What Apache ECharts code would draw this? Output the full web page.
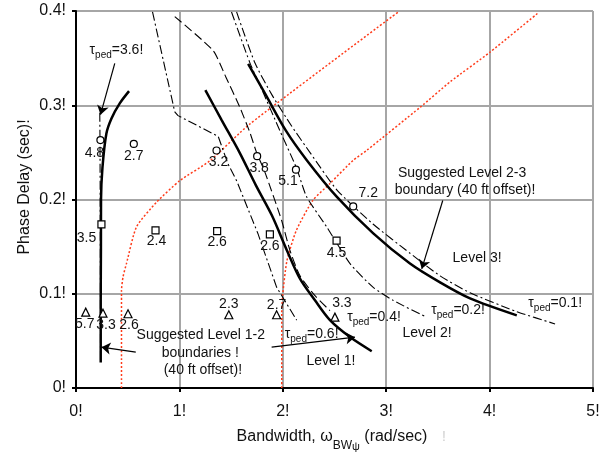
<!DOCTYPE html>
<html>
<head>
<meta charset="utf-8">
<script src="https://cdn.jsdelivr.net/npm/echarts@6/dist/echarts.min.js"></script>
<style>
  html, body { margin: 0; padding: 0; background: #fff; }
  #chart { width: 606px; height: 454px; }
</style>
</head>
<body>
<div id="chart"></div>
<script>
// ---- axis tick labels ----
const xTickLabels = ['0!', '1!', '2!', '3!', '4!', '5!'];
const yTickLabels = ['0!', '0.1!', '0.2!', '0.3!', '0.4!'];

// ---- suggested boundaries (solid) ----
const level12Left = [[0.239, 0.027], [0.239, 0.093], [0.241, 0.146], [0.242, 0.200], [0.256, 0.234],
  [0.294, 0.270], [0.343, 0.286], [0.423, 0.302], [0.513, 0.315]];
const level12Right = [[1.251, 0.316], [1.410, 0.284], [1.586, 0.249], [1.740, 0.215], [1.895, 0.183],
  [2.040, 0.146], [2.166, 0.116], [2.311, 0.093], [2.456, 0.072], [2.650, 0.054], [2.860, 0.039]];
const level23 = [[1.665, 0.344], [1.830, 0.312], [2.030, 0.273], [2.230, 0.242], [2.521, 0.203],
  [2.875, 0.164], [3.230, 0.132], [3.521, 0.112], [3.811, 0.095], [4.263, 0.077]];

// ---- constant pedal time-constant curves ----
const tau36 = [[0.230, 0.292], [0.232, 0.262], [0.234, 0.200], [0.236, 0.120], [0.237, 0.030]];
const tau06 = [[0.740, 0.399], [0.955, 0.293], [0.987, 0.289], [1.375, 0.267], [1.469, 0.238],
  [1.553, 0.220], [1.759, 0.164], [1.940, 0.107], [2.134, 0.072]];
const tau04 = [[0.955, 0.394], [1.326, 0.358], [1.449, 0.330], [1.584, 0.298], [1.682, 0.271],
  [1.746, 0.250], [1.827, 0.229], [1.988, 0.178], [2.069, 0.146], [2.166, 0.119], [2.311, 0.098], [2.456, 0.082]];
const tau02 = [[1.504, 0.399], [1.682, 0.345], [1.808, 0.314], [1.972, 0.273], [2.134, 0.233],
  [2.230, 0.203], [2.424, 0.171], [2.650, 0.132], [2.872, 0.107], [3.066, 0.093], [3.392, 0.075]];
const tau01 = [[1.553, 0.399], [1.730, 0.345], [1.895, 0.311], [2.085, 0.278], [2.262, 0.250],
  [2.524, 0.210], [2.872, 0.174], [3.230, 0.143], [3.521, 0.119], [3.811, 0.101], [4.263, 0.081], [4.633, 0.068]];

// ---- offset curves (red dotted) ----
const offsetLeft = [[0.440, 0.000], [0.440, 0.1035], [0.455, 0.118], [0.488, 0.132], [0.585, 0.171],
  [0.778, 0.197], [1.004, 0.220], [1.294, 0.241], [1.680, 0.280], [3.117, 0.399]];
const offsetRight = [[1.990, 0.000], [1.990, 0.080], [2.000, 0.100], [2.040, 0.135], [2.130, 0.167],
  [2.290, 0.199], [2.456, 0.217], [2.680, 0.2415], [2.810, 0.252], [3.330, 0.298], [3.620, 0.325],
  [4.000, 0.356], [4.470, 0.398]];

// ---- rated configurations ----
const circlePoints = [[0.236, 0.263], [0.559, 0.259], [1.359, 0.252], [1.752, 0.246], [2.127, 0.2316], [2.681, 0.1927]];
const circleRatings = ['4.8', '2.7', '3.2', '3.8', '5.1', '7.2'];
const squarePoints = [[0.246, 0.1736], [0.769, 0.1672], [1.365, 0.1665], [1.875, 0.1630], [2.520, 0.1563]];
const squareRatings = ['3.5', '2.4', '2.6', '2.6', '4.5'];
const trianglePoints = [[0.094, 0.0805], [0.261, 0.0794], [0.503, 0.0788], [1.478, 0.0777], [1.940, 0.0777], [2.504, 0.0752]];
const triangleRatings = ['5.7', '3.3', '2.6', '2.3', '2.7', '3.3'];

// label placement relative to each marker (px)
const circleLabelOffsets = [[-6, 13], [0, 12], [2, 12], [2, 12], [-8, 11], [15, -13]];
const squareLabelOffsets = [[-15, 14], [1, 11], [0, 11], [0, 12], [0, 12]];
const triangleLabelOffsets = [[-1, 12], [3, 12], [1, 11], [0, -11], [0, -10], [7, -14]];

// ---- annotation arrows (tail, head) ----
const arrows = [
  [[0.375, 0.3444], [0.237, 0.290]],
  [[0.578, 0.038], [0.246, 0.0433]],
  [[1.892, 0.0433], [2.698, 0.0539]],
  [[3.547, 0.1989], [3.344, 0.1264]]
];

const FONT = '"Liberation Sans", Arial, Helvetica, sans-serif';
const INK = '#111';

const solid = { color: '#000', width: 2.5, type: 'solid' };
const dashDot = { color: '#000', width: 1.1, type: [9, 3, 2, 3] };
const dashed = { color: '#000', width: 1.1, type: [9, 4] };
const redDot = { color: '#ff3b1a', width: 1.5, type: [2, 2] };

function curve(name, data, style, smooth) {
  return {
    name, type: 'line', data, symbol: 'none', showSymbol: false,
    smooth: smooth, lineStyle: style, silent: true, z: 2
  };
}

function markers(name, pts, ratings, offsets, symbol, size) {
  return {
    name, type: 'scatter', symbol, symbolSize: size, z: 5, silent: true,
    itemStyle: { color: '#fff', borderColor: '#000', borderWidth: 1.2, opacity: 1 },
    data: pts.map((p, i) => ({
      value: [p[0], p[1]],
      label: { offset: offsets[i], formatter: ratings[i] }
    })),
    label: {
      show: true, position: 'inside', color: INK, opacity: 1,
      textBorderWidth: 0, textShadowBlur: 0,
      fontFamily: FONT, fontSize: 14
    }
  };
}

const chart = echarts.init(document.getElementById('chart'));

const option = {
  animation: false,
  backgroundColor: '#fff',
  grid: { left: 76, right: 13, top: 11, bottom: 66, containLabel: false },
  xAxis: {
    type: 'value', min: 0, max: 5, interval: 1,
    axisLine: { show: true, lineStyle: { color: '#000', width: 2 } },
    axisTick: { show: true, length: 4, lineStyle: { color: '#000', width: 2 } },
    axisLabel: {
      margin: 16, color: INK, fontFamily: FONT, fontSize: 16,
      formatter: v => xTickLabels[Math.round(v)]
    },
    splitLine: { show: true, lineStyle: { color: '#a6a6a6', width: 2 } }
  },
  yAxis: {
    type: 'value', min: 0, max: 0.4, interval: 0.1,
    axisLine: { show: true, lineStyle: { color: '#000', width: 2 } },
    axisTick: { show: true, length: 4, lineStyle: { color: '#000', width: 2 } },
    axisLabel: {
      margin: 10, color: INK, fontFamily: FONT, fontSize: 16,
      formatter: v => yTickLabels[Math.round(v / 0.1)]
    },
    splitLine: { show: true, lineStyle: { color: '#a6a6a6', width: 2 } }
  },
  series: [
    curve('offsetLeft', offsetLeft, redDot, 0.2),
    curve('offsetRight', offsetRight, redDot, 0.2),
    curve('tau36', tau36, dashDot, false),
    curve('tau06', tau06, dashDot, false),
    curve('tau04', tau04, dashed, 0.2),
    curve('tau02', tau02, dashDot, 0.2),
    curve('tau01', tau01, dashDot, 0.2),
    curve('level12Left', level12Left, solid, 0.3),
    curve('level12Right', level12Right, solid, 0.3),
    Object.assign(curve('level23', level23, solid, 0.3), {
      markLine: {
        silent: true, symbol: ['none', 'arrow'], symbolSize: 9,
        label: { show: false },
        lineStyle: { color: '#000', width: 1.2, type: 'solid' },
        data: arrows.map(a => [{ coord: a[0] }, { coord: a[1] }])
      }
    }),
    markers('circles', circlePoints, circleRatings, circleLabelOffsets, 'circle', 7),
    markers('squares', squarePoints, squareRatings, squareLabelOffsets, 'rect', 7),
    markers('triangles', trianglePoints, triangleRatings, triangleLabelOffsets, 'triangle', 8)
  ]
};
chart.setOption(option);

// ---- text annotations placed in data space ----
const tauRich = {
  t: { fontSize: 14, fontFamily: FONT, fill: INK, lineHeight: 20 },
  s: { fontSize: 10, fontFamily: FONT, fill: INK, lineHeight: 10, verticalAlign: 'bottom' }
};
const notes = [
  { text: '{t|τ}{s|ped}{t|=3.6!}', at: [0.391, 0.3583], rich: true },
  { text: '{t|τ}{s|ped}{t|=0.6!}', at: [2.279, 0.0575], rich: true },
  { text: '{t|τ}{s|ped}{t|=0.4!}', at: [2.882, 0.0752], rich: true },
  { text: '{t|τ}{s|ped}{t|=0.2!}', at: [3.695, 0.0823], rich: true },
  { text: '{t|τ}{s|ped}{t|=0.1!}', at: [4.634, 0.0897], rich: true },
  { text: 'Suggested Level 1-2', at: [1.207, 0.0557] },
  { text: 'boundaries !', at: [1.202, 0.0369] },
  { text: '(40 ft offset)!', at: [1.227, 0.0186] },
  { text: 'Level 1!', at: [2.466, 0.0281] },
  { text: 'Level 2!', at: [3.395, 0.0579] },
  { text: 'Level 3!', at: [3.879, 0.1375] },
  { text: 'Suggested Level 2-3', at: [3.734, 0.228] },
  { text: 'boundary (40 ft offset)!', at: [3.763, 0.2104] }
];

const graphics = notes.map(n => {
  const p = chart.convertToPixel({ gridIndex: 0 }, n.at);
  const style = {
    text: n.text, fontSize: 14, fontFamily: FONT, fill: INK,
    align: 'center', verticalAlign: 'middle',
    textAlign: 'center', textVerticalAlign: 'middle'
  };
  if (n.rich) style.rich = tauRich;
  return { type: 'text', x: p[0], y: p[1], z: 20, silent: true, style };
});

// axis titles
graphics.push({
  type: 'text', x: 332, y: 437, z: 20, silent: true,
  style: {
    text: '{n|Bandwidth, ω}{s|BW}{ss|ψ}{n| (rad/sec)}',
    align: 'center', verticalAlign: 'middle', textAlign: 'center', textVerticalAlign: 'middle',
    fontSize: 16, fontFamily: FONT, fill: INK,
    rich: {
      n: { fontSize: 16, fontFamily: FONT, fill: INK, lineHeight: 30 },
      s: { fontSize: 12, fontFamily: FONT, fill: INK, lineHeight: 20, verticalAlign: 'bottom' },
      ss: { fontSize: 11, fontFamily: FONT, fill: INK, lineHeight: 4, verticalAlign: 'bottom' }
    }
  }
});
graphics.push({
  type: 'text', x: 444, y: 437, z: 20, silent: true,
  style: {
    text: '!', fontSize: 14, fontFamily: FONT, fill: '#cfcfcf',
    align: 'center', verticalAlign: 'middle', textAlign: 'center', textVerticalAlign: 'middle'
  }
});
graphics.push({
  type: 'text', x: 25, y: 187, rotation: Math.PI / 2, z: 20, silent: true,
  style: {
    text: 'Phase Delay (sec)!', fontSize: 16, fontFamily: FONT, fill: INK,
    align: 'center', verticalAlign: 'middle', textAlign: 'center', textVerticalAlign: 'middle'
  }
});

chart.setOption({ graphic: graphics });
</script>
</body>
</html>
